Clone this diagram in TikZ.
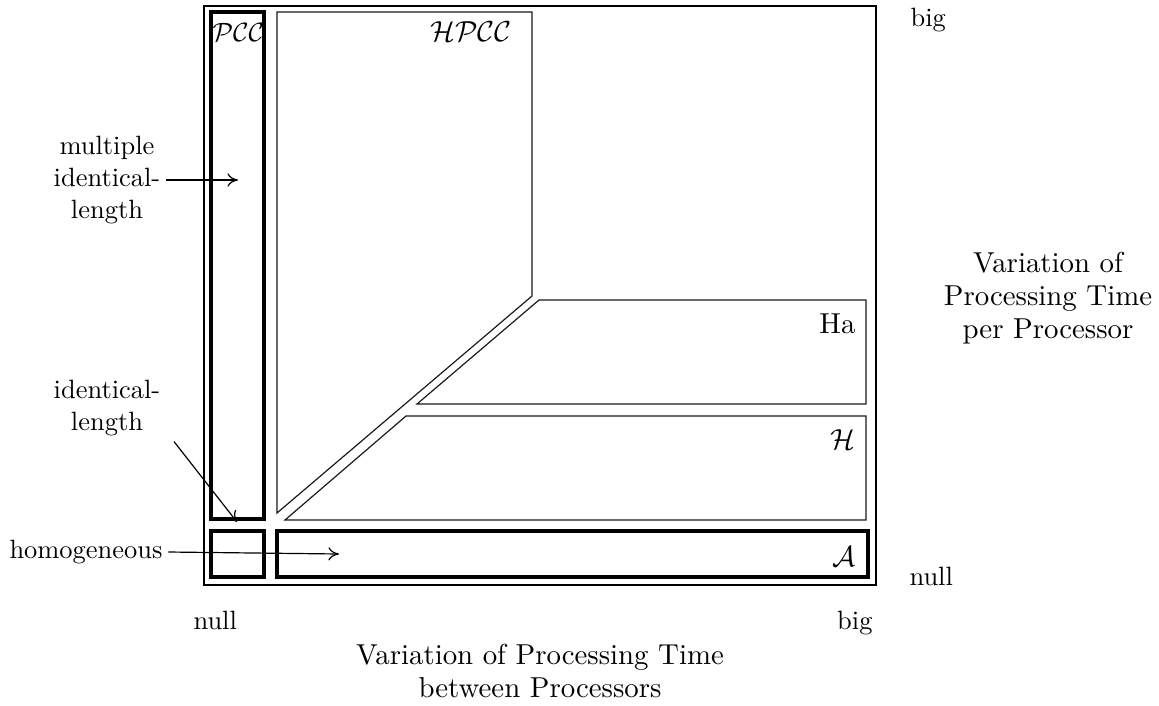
\documentclass[tikz,border=0pt]{standalone}
\usetikzlibrary{arrows.meta}
\begin{document}
\begin{tikzpicture}[x=0.378pt,y=-0.378pt,
  frame/.style={line width=0.8pt},
  cell/.style={line width=1.2pt},
  region/.style={line width=0.45pt,draw=black!90,line join=miter},
  lab/.style={align=center,inner sep=2pt},
  title/.style={align=center,inner sep=2pt,font=\fontsize{10.9}{12.5}\selectfont},
  tag/.style={inner sep=0pt},
  bigtag/.style={inner sep=0pt,font=\fontsize{10.9}{12.5}\selectfont},
  pointer/.style={line width=0.45pt,-{To[length=4pt,width=5pt]}}]
\useasboundingbox (0,0) rectangle (1159,705);

% outer frame and the thick cells
\draw[frame] (204,6) rectangle (876,585);
\draw[cell] (211,12) rectangle (264,519);
\draw[cell] (211,531) rectangle (264,577);
\draw[cell] (277,531) rectangle (868,577);

% thin region outlines
\draw[region] (277,513) -- (277,12) -- (532,12) -- (532,296) -- cycle;
\draw[region] (539,300) -- (866,300) -- (866,404) -- (417,404) -- cycle;
\draw[region] (406,416) -- (866,416) -- (866,520) -- (285,520) -- cycle;

% class names
\node[tag,anchor=base west] (pcc) at (212,41) {$\mathcal{PCC}$};
\node[bigtag,anchor=base east] (hpcc) at (512,41) {$\mathcal{HPCC}$};
\node[bigtag,anchor=base east] (ha) at (856,333) {Ha};
\node[bigtag,anchor=base east] (h) at (856,449) {$\mathcal{H}$};
\node[bigtag,anchor=base east] (a) at (856,566) {$\mathcal{A}$};

% axis ends
\node[tag,anchor=base west] (bigv) at (910,26) {big};
\node[tag,anchor=base west] (nullv) at (909,585) {null};
\node[tag,anchor=base west] (nullh) at (193,629) {null};
\node[tag,anchor=base east] (bigh) at (873,629) {big};

% axis titles
\node[title] (xaxis) at (540,671) {Variation of Processing Time\\between Processors};
\node[title] (yaxis) at (1048,298) {Variation of\\Processing Time\\per Processor};

% side annotations with pointers
\node[lab] (mult) at (107,180) {multiple\\identical-\\length};
\node[lab] (ident) at (107,408) {identical-\\length};
\node[lab] (homog) at (86,552) {homogeneous};
\coordinate (pm) at (238,180);
\coordinate (pi) at (237,522);
\coordinate (ph) at (339,554);
\draw[pointer] (mult.east) -- (pm);
\draw[pointer] ([xshift=3pt]ident.south east) -- (pi);
\draw[pointer] (homog.east) -- (ph);
\end{tikzpicture}
\end{document}
